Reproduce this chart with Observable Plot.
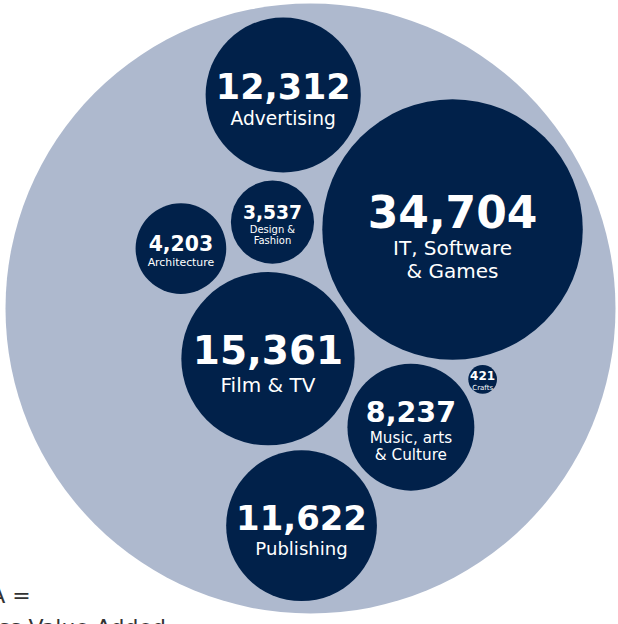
<!DOCTYPE html>
<html><head><meta charset="utf-8">
<script src="https://cdn.jsdelivr.net/npm/d3@7"></script>
<script src="https://cdn.jsdelivr.net/npm/@observablehq/plot@0.6"></script>
<style>html,body{margin:0;padding:0;background:#fff;overflow:hidden}svg{display:block}</style></head>
<body><div id="chart"></div>
<script>
// ---- data ----
const sectors = ["IT, Software & Games", "Film & TV", "Advertising", "Publishing", "Music, arts & Culture", "Architecture", "Design & Fashion", "Crafts"];
const sectorLabels = ["IT, Software\n& Games", "Film & TV", "Advertising", "Publishing", "Music, arts\n& Culture", "Architecture", "Design &\nFashion", "Crafts"];
const gva = [34704, 15361, 12312, 11622, 8237, 4203, 3537, 421];
const packOrder = [0, 1, 6, 4, 2, 7, 5, 3];
const noteLines = ["GVA =", "Gross Value Added"];

// ---- layout (circle packing with d3.packSiblings) ----
const W = 618, H = 624;
const outerR = 305;
const padU = 6;
const orientDeg = 145; // direction of 2nd-largest bubble seen from the largest
const dark = "#01214a", light = "#aeb9ce";

const nodes = packOrder.map(i => ({i, r: Math.sqrt(gva[i]) + padU}));
d3.packSiblings(nodes);
const enc = d3.packEnclose(nodes);
const s = (outerR - 8) / enc.r;
const nBig = nodes.find(n => n.i === 0), nSecond = nodes.find(n => n.i === 1);
const rotation = orientDeg * Math.PI / 180 - Math.atan2(nSecond.y - nBig.y, nSecond.x - nBig.x);
const cos = Math.cos(rotation), sin = Math.sin(rotation);
const fmt = d3.format(",");
const bubbles = nodes.map(n => {
  const x0 = (n.x - enc.x) * s, y0 = (n.y - enc.y) * s;
  const x = x0 * cos - y0 * sin, y = x0 * sin + y0 * cos;
  const v = gva[n.i];
  const rp = Math.sqrt(v) * s;
  const vf = Math.max(12, Math.min(44, 0.45 * rp));
  const lf = Math.max(7, Math.min(20, 0.24 * rp));
  const label = sectorLabels[n.i];
  const nl = label.split("\n").length;
  const capV = 0.73 * vf, gap = 0.6 * lf, lh = 1.12;
  const hb = capV + gap + (nl - 1) * lh * lf + 0.73 * lf;
  const top = y + 0.05 * rp - hb / 2;
  return {sector: sectors[n.i], label, value: v, text: fmt(v), x, y, vf, lf,
          valueY: top + capV / 2 + 0.045 * vf, labelY: top + capV + gap};
});

const chart = Plot.plot({
  width: W, height: H,
  marginTop: 0, marginRight: 0, marginBottom: 0, marginLeft: 0,
  x: {domain: [-310, 308], range: [0, W], axis: null},
  y: {domain: [-308, 316], range: [0, H], axis: null},
  r: {type: "sqrt", domain: [0, d3.max(gva)], range: [0, Math.sqrt(d3.max(gva)) * s]},
  style: {fontFamily: "DejaVu Sans", background: "white", overflow: "visible"},
  marks: [
    Plot.dot([{x: 0, y: 0}], {x: "x", y: "y", r: outerR, fill: light, stroke: "none"}),
    Plot.dot(bubbles, {x: "x", y: "y", r: "value", fill: dark, stroke: "none", title: "sector"}),
    Plot.text(bubbles, {x: "x", y: "valueY", text: "text", fontSize: "vf", fontWeight: "bold",
      fill: "white", lineAnchor: "middle", fontFamily: "DejaVu Sans"}),
    Plot.text(bubbles, {x: "x", y: "labelY", text: "label", fontSize: "lf", fill: "white",
      lineAnchor: "top", lineHeight: 1.12, fontFamily: "DejaVu Sans"}),
    Plot.text([noteLines.join("\n")], {frameAnchor: "bottom-left", text: d => d, textAnchor: "start",
      lineAnchor: "bottom", lineHeight: 1.45, fontSize: 22, dx: -41, dy: 10, fill: "#333", fontFamily: "DejaVu Sans"})
  ]
});
document.getElementById("chart").append(chart);
</script></body></html>
